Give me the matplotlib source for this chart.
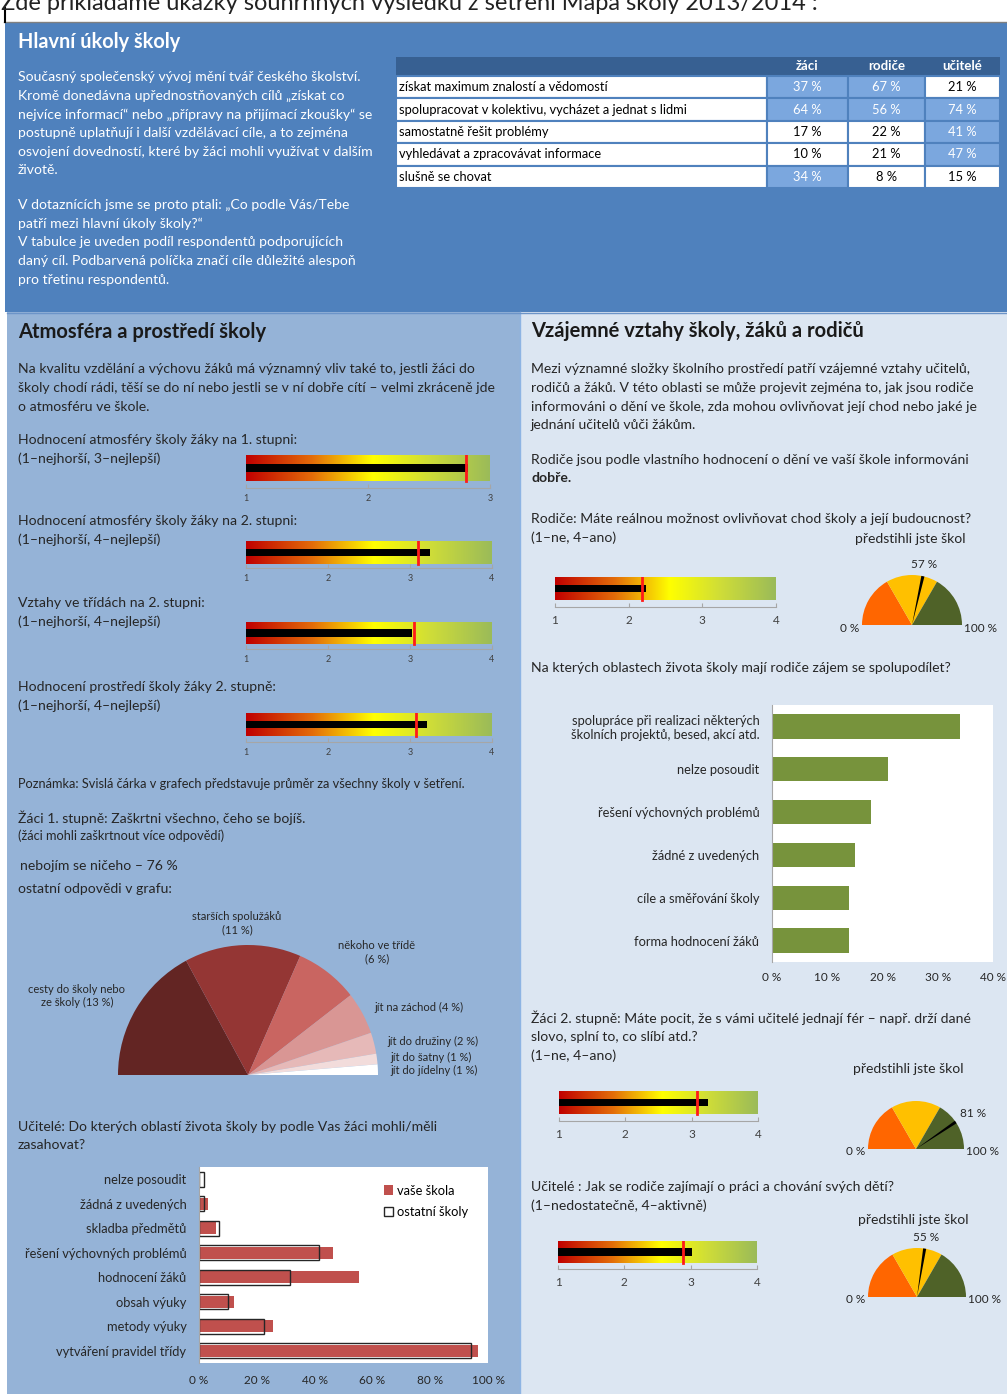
import numpy as np
import matplotlib.pyplot as plt
from matplotlib.colors import LinearSegmentedColormap
from matplotlib.patches import Rectangle

plt.rcParams['font.family'] = ['Lato', 'DejaVu Sans']

W, H = 1007, 1394

# ---- data ----
goal_rows = ['získat maximum znalostí a vědomostí',
             'spolupracovat v kolektivu, vycházet a jednat s lidmi',
             'samostatně řešit problémy',
             'vyhledávat a zpracovávat informace',
             'slušně se chovat']
goal_cols = ['žáci', 'rodiče', 'učitelé']
goal_pct = [[37, 67, 21],
            [64, 56, 74],
            [17, 22, 41],
            [10, 21, 47],
            [34, 8, 15]]

atm_titles = ['Hodnocení atmosféry školy žáky na 1. stupni:',
              'Hodnocení atmosféry školy žáky na 2. stupni:',
              'Vztahy ve třídách na 2. stupni:',
              'Hodnocení prostředí školy žáky 2. stupně:']
atm_scales = ['(1–nejhorší, 3–nejlepší)', '(1–nejhorší, 4–nejlepší)',
              '(1–nejhorší, 4–nejlepší)', '(1–nejhorší, 4–nejlepší)']
atm_school = [2.82, 3.24, 3.03, 3.21]
atm_avg = [2.80, 3.10, 3.05, 3.07]
atm_top = [3, 4, 4, 4]

fear_labels = ['cesty do školy nebo\nze školy (13 %)', 'starších spolužáků\n(11 %)',
               'někoho ve třídě\n(6 %)', 'jít na záchod (4 %)', 'jít do družiny (2 %)',
               'jít do šatny (1 %)', 'jít do jídelny (1 %)']
fear_pct = [13, 11, 6, 4, 2, 1, 1]

teach_cats = ['nelze posoudit', 'žádná z uvedených', 'skladba předmětů',
              'řešení výchovných problémů', 'hodnocení žáků', 'obsah výuky',
              'metody výuky', 'vytváření pravidel třídy']
teach_own = [0, 3, 6, 46.5, 55.5, 12, 25.5, 96.5]
teach_other = [1.7, 1.7, 7, 41.5, 31.5, 10, 22.5, 94]

parent_cats = ['spolupráce při realizaci některých\nškolních projektů, besed, akcí atd.',
               'nelze posoudit', 'řešení výchovných problémů', 'žádné z uvedených',
               'cíle a směřování školy', 'forma hodnocení žáků']
parent_pct = [34, 21, 18, 15, 14, 14]

rel_school = [2.24, 3.25, 3.02]
rel_avg = [2.18, 3.08, 2.88]
rel_beaten = [57, 81, 55]
gauge_parts = [1, 1, 1]

DARK = '#262626'
BODY = 10.1

fig = plt.figure(figsize=(W / 100, H / 100), dpi=100)
bg = fig.add_axes([0, 0, 1, 1])
bg.set_xlim(0, W)
bg.set_ylim(H, 0)
bg.axis('off')


def rect(x0, y0, x1, y1):
    return [x0 / W, 1 - y1 / H, (x1 - x0) / W, (y1 - y0) / H]


def box(x0, y0, x1, y1, **kw):
    bg.add_patch(Rectangle((x0, y0), x1 - x0, y1 - y0, **kw))


def txt(x, y, s, size=BODY, color=DARK, **kw):
    bg.text(x, y, s, fontsize=size, color=color, va='center', **kw)


# backgrounds
txt(1, 4, 'Zde přikládáme ukázky souhrnných výsledků z šetření Mapa školy 2013/2014 :', size=17, color='#222222')
box(5, 22, W, 312, fc='#4F81BD', ec='none')
box(7, 312, 520, H, fc='#95B3D7', ec='none')
box(520, 312, W, H, fc='#DCE6F2', ec='none')
bg.plot([4, W], [22, 22], color='#808080', lw=1)
bg.plot([5, 5], [8, 22], color='black', lw=1.5)
bg.plot([520, 520], [312, H], color='#8EB4E3', lw=1)
bg.plot([7, W], [312.5, 312.5], color='#6C94C8', lw=1)

# ---- header ----
txt(18, 42, 'Hlavní úkoly školy', size=14.3, color='white', weight='bold')
head_lines = ['Současný společenský vývoj mění tvář českého školství.',
              'Kromě donedávna upřednostňovaných cílů „získat co',
              'nejvíce informací“ nebo „přípravy na přijímací zkoušky“ se',
              'postupně uplatňují i další vzdělávací cíle, a to zejména',
              'osvojení dovedností, které by žáci mohli využívat v dalším',
              'životě.']
for i, s in enumerate(head_lines):
    txt(18, 77 + 18.7 * i, s, size=10.1, color='white')
head_lines2 = ['V dotaznících jsme se proto ptali: „Co podle Vás/Tebe',
               'patří mezi hlavní úkoly školy?“',
               'V tabulce je uveden podíl respondentů podporujících',
               'daný cíl. Podbarvená políčka značí cíle důležité alespoň',
               'pro třetinu respondentů.']
for i, s in enumerate(head_lines2):
    txt(18, 205 + 18.7 * i, s, size=10.1, color='white')

# table
col_x = [396, 767, 848, 925, 1000]
row_y = [76, 98, 121, 143, 166, 188]
box(396, 57, 1000, 75, fc='#376092', ec='none')
for j, c in enumerate(goal_cols):
    txt((col_x[j + 1] + col_x[j + 2]) / 2, 66.5, c, size=9.5, color='white', weight='bold', ha='center')
for i, lab in enumerate(goal_rows):
    y0, y1 = row_y[i], row_y[i + 1]
    box(col_x[0], y0, col_x[1], y1, fc='white', ec='#4F81BD', lw=1.5)
    txt(col_x[0] + 3, (y0 + y1) / 2, lab, size=9.3, color='black')
    for j, v in enumerate(goal_pct[i]):
        hi = v >= 100 / 3
        box(col_x[j + 1], y0, col_x[j + 2], y1, fc='#7BA7DE' if hi else 'white', ec='#4F81BD', lw=1.5)
        txt((col_x[j + 1] + col_x[j + 2]) / 2, (y0 + y1) / 2, f'{v} %', size=9.3,
            color='white' if hi else 'black', ha='center')

# ---- bullet charts ----
cmap = LinearSegmentedColormap.from_list('traffic', [(0, '#C00000'), (0.27, '#E36C09'), (0.52, '#FFFF00'),
                                                     (0.75, '#CFDD38'), (1, '#9BBB59')])
grad = np.linspace(0, 1, 256).reshape(1, -1)


def bullet(x0, x1, ytop, ybot, yaxis, school, avg, top, lsize, pad):
    frac = (yaxis - ybot) / (ybot - ytop)
    ax = fig.add_axes(rect(x0, ytop, x1, yaxis))
    ax.set_facecolor('none')
    ax.imshow(grad, cmap=cmap, extent=(1, top, 0, 1), aspect='auto')
    ax.barh(0.5, school - 1, left=1, height=0.32, color='black')
    ax.plot([avg, avg], [0, 1], color='#FF1A1A', lw=2)
    ax.set_xlim(1, top)
    ax.set_ylim(-frac, 1)
    for s in ['top', 'right', 'left']:
        ax.spines[s].set_visible(False)
    ax.spines['bottom'].set_color('#A6A6A6')
    ax.set_yticks([])
    ax.set_xticks(range(1, top + 1))
    ax.tick_params(axis='x', direction='in', length=3, color='#A6A6A6', labelsize=lsize,
                   labelcolor='#404040', pad=pad)


txt(18, 332, 'Atmosféra a prostředí školy', size=14.5, weight='bold', color='#1A1A1A')
left_par = ['Na kvalitu vzdělání a výchovu žáků má významný vliv také to, jestli žáci do',
            'školy chodí rádi, těší se do ní nebo jestli se v ní dobře cítí – velmi zkráceně jde',
            'o atmosféru ve škole.']
for i, s in enumerate(left_par):
    txt(18, 369 + 19 * i, s)

atm_text_y = [440, 521, 603, 687]
atm_bars = [(246, 490, 455, 481, 488), (246, 492, 541, 564, 568),
            (246, 492, 622, 644, 649), (246, 492, 713, 736, 742)]
for k in range(4):
    txt(18, atm_text_y[k], atm_titles[k])
    txt(18, atm_text_y[k] + 19, atm_scales[k])
    x0, x1, yt, yb, ya = atm_bars[k]
    bullet(x0, x1, yt, yb, ya, atm_school[k], atm_avg[k], atm_top[k], 6.5, 4)

txt(18, 784, 'Poznámka: Svislá čárka v grafech představuje průměr za všechny školy v šetření.', size=9.2)
txt(18, 818, 'Žáci 1. stupně: Zaškrtni všechno, čeho se bojíš.')
txt(18, 836, '(žáci mohli zaškrtnout více odpovědí)', size=9.2)
txt(20, 866, 'nebojím se ničeho – 76 %')
txt(18, 889, 'ostatní odpovědi v grafu:')

# half pie of fears
pax = fig.add_axes(rect(118, 945, 378, 1075))
fear_colors = ['#632523', '#943634', '#C96561', '#D99694', '#E6B9B8', '#F2DCDB', '#FFFFFF']
pax.pie(fear_pct + [sum(fear_pct)], colors=fear_colors + ['none'], startangle=180,
        counterclock=False, wedgeprops=dict(lw=0))
pax.set_xlim(-1, 1)
pax.set_ylim(0, 1)
fear_pos = [(77, 996, 'center'), (237, 923, 'center'), (377, 952, 'center'), (374, 1007, 'left'),
            (387, 1041, 'left'), (390, 1057, 'left'), (390, 1070, 'left')]
for (x, y, ha), lab in zip(fear_pos, fear_labels):
    txt(x, y, lab, size=8.0, ha=ha, linespacing=1.3)

txt(18, 1127, 'Učitelé: Do kterých oblastí života školy by podle Vas žáci mohli/měli')
txt(18, 1145, 'zasahovat?')

# teachers bar chart
ax = fig.add_axes(rect(199, 1167, 488, 1363))
ax.set_facecolor('white')
yy = np.arange(len(teach_cats))
b1 = ax.barh(yy, teach_own, height=0.5, color='#C0504D', label='vaše škola')
b2 = ax.barh(yy, teach_other, height=0.62, fill=False, edgecolor='#262626', lw=1.0, label='ostatní školy')
ax.set_ylim(len(teach_cats) - 0.5, -0.5)
ax.set_xlim(0, 100)
ax.set_yticks(yy)
ax.set_yticklabels(teach_cats)
ax.set_xticks(range(0, 101, 20))
ax.set_xticklabels([f'{v} %' for v in range(0, 101, 20)])
for s in ['top', 'right', 'bottom']:
    ax.spines[s].set_visible(False)
ax.spines['left'].set_color('#A6A6A6')
ax.tick_params(axis='y', length=0, labelsize=9.3, labelcolor=DARK, pad=9)
ax.tick_params(axis='x', length=0, labelsize=8.5, labelcolor=DARK, pad=9)
ax.legend(loc='upper left', bbox_to_anchor=(0.6, 0.97), frameon=False, fontsize=9.3,
          handlelength=0.7, handleheight=0.7, handletextpad=0.3, labelspacing=0.7)

# ---- right side ----
txt(531, 331, 'Vzájemné vztahy školy, žáků a rodičů', size=14.5, weight='bold', color='#1A1A1A')
right_par = ['Mezi významné složky školního prostředí patří vzájemné vztahy učitelů,',
             'rodičů a žáků. V této oblasti se může projevit zejména to, jak jsou rodiče',
             'informováni o dění ve škole, zda mohou ovlivňovat její chod nebo jaké je',
             'jednání učitelů vůči žákům.']
for i, s in enumerate(right_par):
    txt(531, 369 + 18.8 * i, s)
txt(531, 460, 'Rodiče jsou podle vlastního hodnocení o dění ve vaší škole informováni')
txt(531, 478, 'dobře.', weight='bold')

rel_texts = [['Rodiče: Máte reálnou možnost ovlivňovat chod školy a její budoucnost?', '(1–ne, 4–ano)'],
             ['Žáci 2. stupně: Máte pocit, že s vámi učitelé jednají fér – např. drží dané',
              'slovo, splní to, co slíbí atd.?', '(1–ne, 4–ano)'],
             ['Učitelé : Jak se rodiče zajímají o práci a chování svých dětí?', '(1–nedostatečně, 4–aktivně)']]
rel_text_y = [519, 1018, 1187]
rel_note = [(855, 539), (853, 1069), (858, 1220)]
rel_bars = [(555, 776, 577, 600, 607), (559, 758, 1091, 1114, 1121), (558, 757, 1241, 1263, 1269)]
rel_gauges = [(912, 625, 50), (916, 1149, 48), (917, 1297, 49)]


def gauge(cx, cy, r, value):
    gx = fig.add_axes(rect(cx - r, cy - r, cx + r, cy))
    gx.pie(gauge_parts + [sum(gauge_parts)], colors=['#FF6600', '#FFC000', '#4F6228', 'none'],
           startangle=180, counterclock=False, wedgeprops=dict(lw=0))
    gx.pie([value - 1, 2, 100 - value - 1, 100], colors=['none', 'black', 'none', 'none'],
           startangle=180, counterclock=False, wedgeprops=dict(lw=0))
    gx.set_xlim(-1, 1)
    gx.set_ylim(0, 1)
    ang = np.pi * (1 - value / 100)
    if np.cos(ang) > 0.5:
        gx.text(1.12 * np.cos(ang), 1.12 * np.sin(ang), f'{value} %', fontsize=8.5, color=DARK,
                ha='left', va='bottom')
    else:
        gx.text(1.12 * np.cos(ang), 1.12 * np.sin(ang), f'{value} %', fontsize=8.5, color=DARK,
                ha='center', va='bottom')
    gx.text(-1.05, -0.06, '0 %', fontsize=8.5, color=DARK, ha='right', va='center')
    gx.text(1.05, -0.06, '100 %', fontsize=8.5, color=DARK, ha='left', va='center')


for k in range(3):
    for i, s in enumerate(rel_texts[k]):
        txt(531, rel_text_y[k] + 19 * i, s)
    txt(rel_note[k][0], rel_note[k][1], 'předstihli jste škol')
    x0, x1, yt, yb, ya = rel_bars[k]
    bullet(x0, x1, yt, yb, ya, rel_school[k], rel_avg[k], 4, 8.5, 6)
    cx, cy, r = rel_gauges[k]
    gauge(cx, cy, r, rel_beaten[k])

txt(531, 668, 'Na kterých oblastech života školy mají rodiče zájem se spolupodílet?')

gx = fig.add_axes(rect(772, 705, 993, 962))
gx.set_facecolor('white')
yy = np.arange(len(parent_cats))
gx.barh(yy, parent_pct, height=0.57, color='#77933C')
gx.set_ylim(len(parent_cats) - 0.5, -0.5)
gx.set_xlim(0, 40)
gx.set_yticks(yy)
gx.set_yticklabels(parent_cats)
gx.set_xticks(range(0, 41, 10))
gx.set_xticklabels([f'{v} %' for v in range(0, 41, 10)])
for s in ['top', 'right', 'bottom']:
    gx.spines[s].set_visible(False)
gx.spines['left'].set_color('#A6A6A6')
gx.tick_params(axis='y', length=0, labelsize=9.3, labelcolor=DARK, pad=9)
gx.tick_params(axis='x', length=0, labelsize=8.5, labelcolor=DARK, pad=7)

fig.savefig('out.png', dpi=100)
